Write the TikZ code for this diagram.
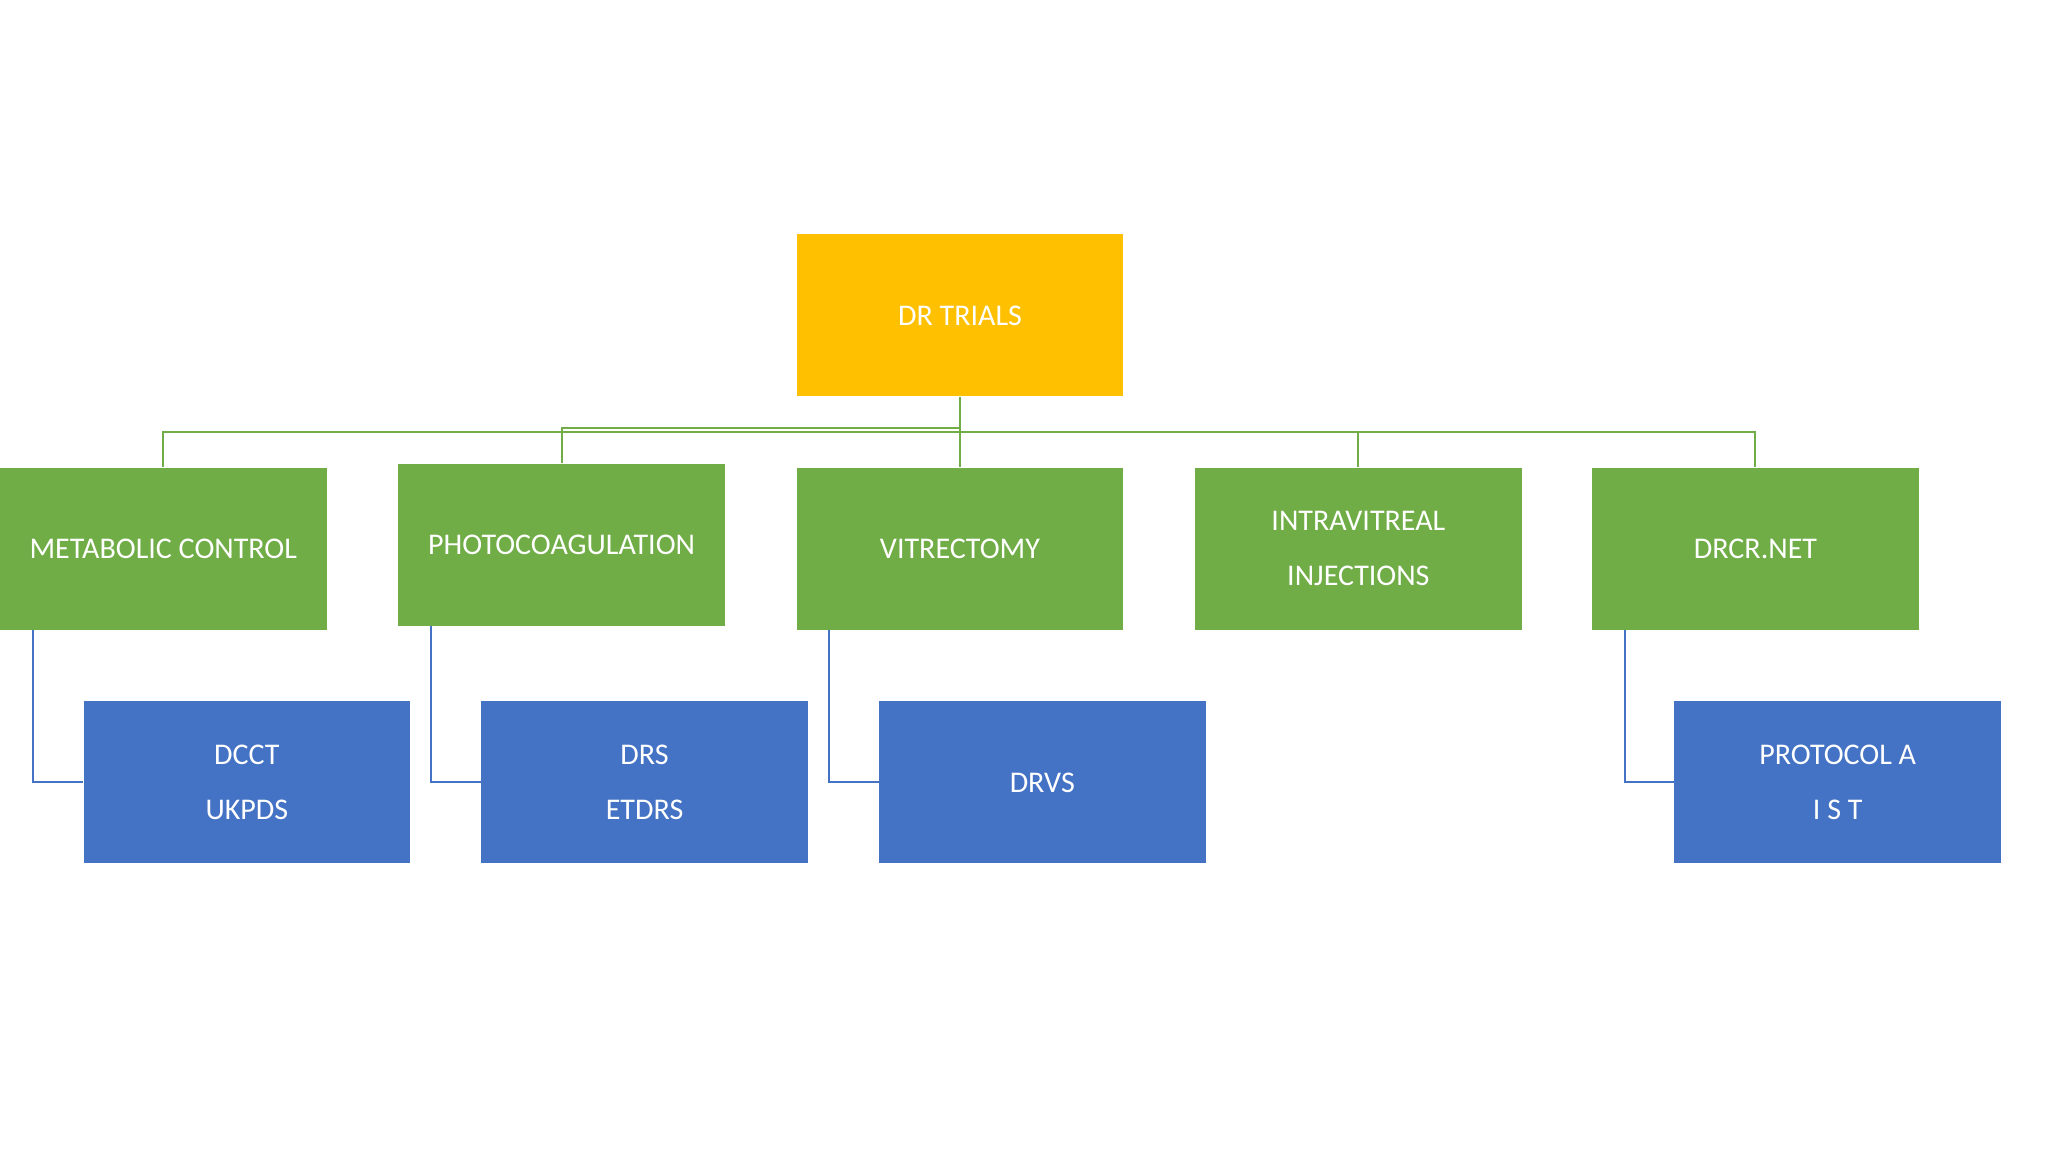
\documentclass[tikz,border=0pt]{standalone}
\usepackage{fontspec}
\setmainfont{Carlito}
\definecolor{gold}{HTML}{FFC000}
\definecolor{grn}{HTML}{70AD47}
\definecolor{blu}{HTML}{4472C4}
\begin{document}
\begin{tikzpicture}[x=1pt,y=-1pt,
  box/.style={minimum width=250pt,minimum height=124pt,inner sep=0pt,text=white,font=\fontsize{23}{42}\selectfont,align=center},
  g/.style={box,fill=grn},b/.style={box,fill=blu},
  gl/.style={draw=grn,line width=1.5pt},bl/.style={draw=blu,line width=1.5pt}]
\useasboundingbox[fill=white] (0,0) rectangle (1568,882);
\node[box,fill=gold] (root) at (735,241.5) {DR TRIALS};
\node[g] (m) at (125,420) {METABOLIC CONTROL};
\node[g] (p) at (430,417) {PHOTOCOAGULATION};
\node[g] (v) at (735,420) {VITRECTOMY};
\node[g] (i) at (1040,420) {INTRAVITREAL\\INJECTIONS};
\node[g] (d) at (1344,420) {DRCR.NET};
\node[b] (m2) at (189,599) {DCCT\\UKPDS};
\node[b] (p2) at (493.5,599) {DRS\\ETDRS};
\node[b] (v2) at (798,599) {DRVS};
\node[b] (d2) at (1407,599) {PROTOCOL A\\I S T};
\coordinate (hub) at (735,331);
\draw[gl] (root.south) -- (hub);
\draw[gl] (hub) -| (m.north);
\draw[gl] (hub) -- (v.north);
\draw[gl] (hub) -| (i.north);
\draw[gl] (hub) -| (d.north);
\draw[gl] (root.south) ++(0,24) -| (p.north);
\draw[bl] ([xshift=-100pt]m.south) |- (m2.west);
\draw[bl] ([xshift=-100pt]p.south) |- (p2.west);
\draw[bl] ([xshift=-100pt]v.south) |- (v2.west);
\draw[bl] ([xshift=-100pt]d.south) |- (d2.west);
\end{tikzpicture}
\end{document}
